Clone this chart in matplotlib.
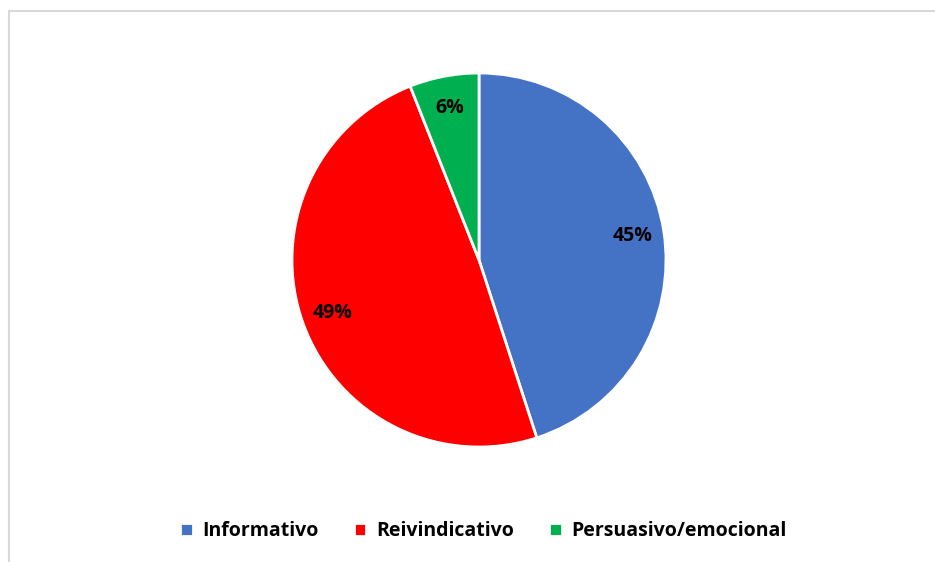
import matplotlib.pyplot as plt
from matplotlib.patches import Rectangle

plt.rcParams['font.family'] = ['Open Sans', 'DejaVu Sans']

categories = ['Informativo', 'Reivindicativo', 'Persuasivo/emocional']
values = [45, 49, 6]
colors = ['#4472C4', '#FF0000', '#00B050']

fig = plt.figure(figsize=(9.35, 5.62), dpi=100)

# light grey frame around the chart area
fig.patches.append(Rectangle((8.5 / 935, -0.05), 1.1, (562 - 10.5) / 562 + 0.05,
                             transform=fig.transFigure, fill=False,
                             edgecolor='#D9D9D9', linewidth=1.5))

ax = fig.add_axes([0.3123, 0.2046, 0.4, 0.6655])
wedges, texts, autotexts = ax.pie(values, colors=colors, startangle=90, counterclock=False,
                                  autopct='%1.0f%%', pctdistance=0.83,
                                  wedgeprops=dict(edgecolor='white', linewidth=2),
                                  textprops=dict(fontsize=14, fontweight='bold', color='black'))
ax.set_xlim(-1, 1)
ax.set_ylim(-1, 1)
ax.set_aspect('equal')

fig.legend(wedges, categories, loc='center', bbox_to_anchor=(0.517, 0.055), ncol=3,
           frameon=False, handlelength=0.65, handleheight=0.65, handletextpad=0.5,
           columnspacing=1.8, prop=dict(size=14, weight='bold'))

plt.savefig('out.png', dpi=100)
